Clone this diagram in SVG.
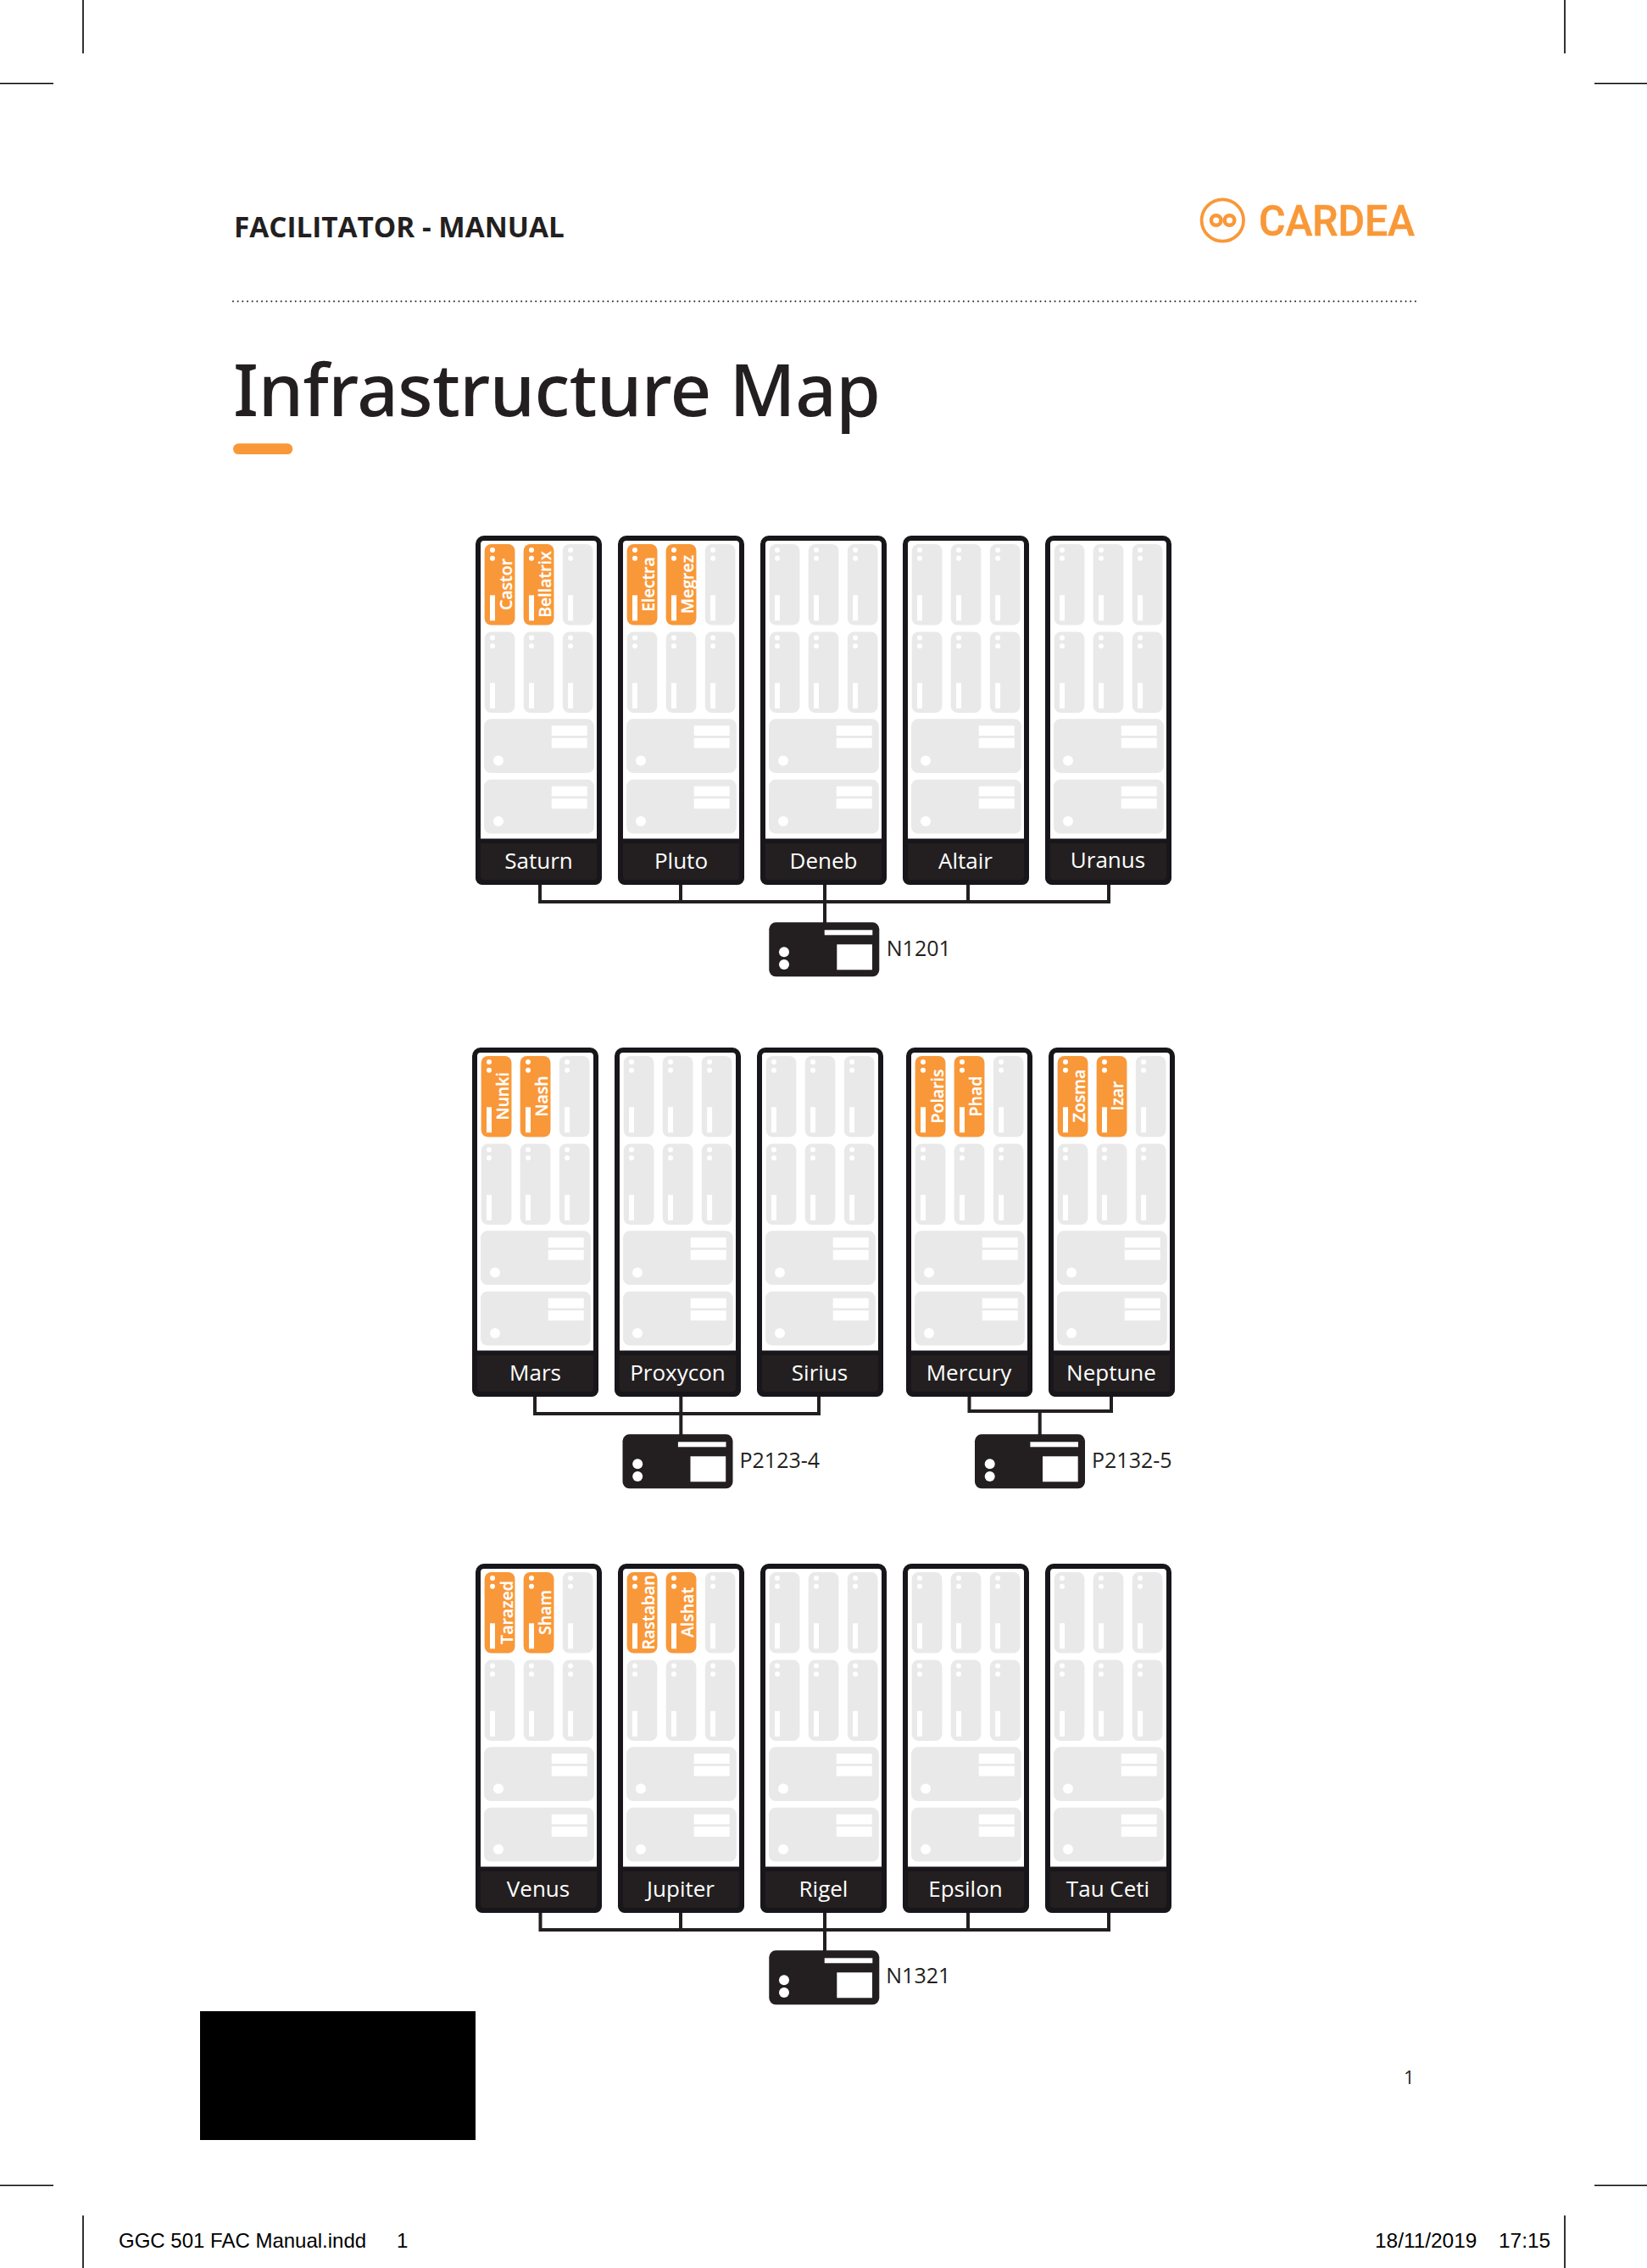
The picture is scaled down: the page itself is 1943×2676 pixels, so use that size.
<svg xmlns="http://www.w3.org/2000/svg" xmlns:xlink="http://www.w3.org/1999/xlink" width="1943" height="2676" viewBox="0 0 1943 2676">
<style>
text{font-family:"Open Sans","Noto Sans",sans-serif;fill:#231f20}
.w{fill:#fff}
.off{fill:#e9e9e9}
.on{fill:#f99838}
.name{font-size:26px;font-weight:500;fill:#fff;text-anchor:middle}
.bl{font-size:19.500px;font-weight:600;fill:#fff;stroke:#fff;stroke-width:.25;text-anchor:middle}
.sw{font-size:25px;font-weight:500}
.crop{stroke:#000;stroke-width:1.6;fill:none}
.conn{stroke:#231f20;stroke-width:4;fill:none}
.slug{font-family:"Liberation Sans",Arial,sans-serif;font-size:24px;fill:#000}
</style>
<defs>
<g id="blade">
<rect width="35.7" height="95.5" rx="8"/>
<circle class="w" cx="9.3" cy="7" r="3"/>
<circle class="w" cx="9.3" cy="16.8" r="3"/>
<rect class="w" x="6.3" y="60.3" width="6" height="30"/>
</g>
<g id="wide">
<rect class="off" width="129.8" height="63.8" rx="8"/>
<rect class="w" x="79.7" y="7.9" width="42" height="11.8"/>
<rect class="w" x="79.7" y="22.5" width="42" height="11.8"/>
<ellipse class="w" cx="17" cy="49.3" rx="6" ry="6"/>
</g>
<g id="rack">
<rect x="3" y="3" width="143" height="406" rx="7" fill="#fff" stroke="#18161a" stroke-width="6"/>
<path d="M0 357.5H149V404a8 8 0 0 1-8 8H8a8 8 0 0 1-8-8Z" fill="#18161a"/>
<path d="M6 363H143V402a4 4 0 0 1-4 4H10a4 4 0 0 1-4-4Z" fill="#231f20"/>
<use href="#blade" class="off" x="10.7" y="10"/>
<use href="#blade" class="off" x="56.7" y="10"/>
<use href="#blade" class="off" x="102.8" y="10"/>
<use href="#blade" class="off" x="10.7" y="113.5"/>
<use href="#blade" class="off" x="56.7" y="113.5"/>
<use href="#blade" class="off" x="102.8" y="113.5"/>
<use href="#wide" x="10" y="216.3"/>
<use href="#wide" x="10" y="287.8"/>
</g>
<g id="switch">
<rect width="130" height="64" rx="8" fill="#231f20"/>
<rect class="w" x="65.4" y="9" width="56.6" height="6"/>
<rect class="w" x="80" y="26" width="41.7" height="30"/>
<circle class="w" cx="17.7" cy="35" r="6"/>
<circle class="w" cx="17.7" cy="49.7" r="6"/>
</g>
</defs>
<rect width="1943" height="2676" fill="#fff"/>

<g id="crop-marks" class="crop">
<path d="M98 0V63M0 98.500H63M1846 0V63M1881 98.500H1943M0 2578.500H63M98 2614V2676M1881 2578.500H1943M1846 2614V2676"/>
</g>

<g id="header">
<text x="276" y="280" font-size="33.300" font-weight="700">FACILITATOR - MANUAL</text>
<path d="M275 355.500H1670" stroke="#231f20" stroke-width="2" stroke-linecap="round" stroke-dasharray="0 5.67" fill="none"/>
<text x="275" y="491" font-size="85" font-weight="500" style="font-family:'Noto Sans','Open Sans',sans-serif" textLength="764" lengthAdjust="spacing">Infrastructure Map</text>
<rect x="275" y="523.300" width="70.300" height="12.700" rx="6.300" class="on"/>
<g id="logo">
<circle cx="1442.300" cy="260" r="24.700" fill="none" stroke="#f99838" stroke-width="3.800"/>
<circle cx="1434.700" cy="260" r="5.800" fill="none" stroke="#f99838" stroke-width="4.500"/>
<circle cx="1450.500" cy="260" r="5.800" fill="none" stroke="#f99838" stroke-width="4.500"/>
<text x="1485" y="278.300" font-size="50" font-weight="500" style="font-family:Roboto,sans-serif;fill:#f99838;stroke:#f99838;stroke-width:.6" textLength="184" lengthAdjust="spacingAndGlyphs">CARDEA</text>
</g>
</g>

<g id="connectors" class="conn">
<path d="M637 1043V1064H1308V1043M803 1043V1064M1142 1043V1064M973 1043V1089"/>
<path d="M631 1646V1668H966V1646M803.300 1646V1693"/>
<path d="M1143.500 1646V1665H1311V1646M1226.700 1665V1693"/>
<path d="M637.500 2256V2277H1308V2256M803 2256V2277M1142 2256V2277M973 2256V2302"/>
</g>

<g id="rack-saturn" transform="translate(561 632)"><use href="#rack"/><use href="#blade" class="on" x="10.700" y="10"/><use href="#blade" class="on" x="56.700" y="10"/><text class="bl" transform="translate(43 57.500) rotate(-90)">Castor</text><text class="bl" transform="translate(89 57.500) rotate(-90)">Bellatrix</text><text class="name" x="74.500" y="393">Saturn</text></g>
<g id="rack-pluto" transform="translate(729 632)"><use href="#rack"/><use href="#blade" class="on" x="10.700" y="10"/><use href="#blade" class="on" x="56.700" y="10"/><text class="bl" transform="translate(43 57.500) rotate(-90)">Electra</text><text class="bl" transform="translate(89 57.500) rotate(-90)">Megrez</text><text class="name" x="74.500" y="393">Pluto</text></g>
<g id="rack-deneb" transform="translate(897 632)"><use href="#rack"/><text class="name" x="74.500" y="393">Deneb</text></g>
<g id="rack-altair" transform="translate(1065 632)"><use href="#rack"/><text class="name" x="74" y="393">Altair</text></g>
<g id="rack-uranus" transform="translate(1233 632)"><use href="#rack"/><text class="name" x="74" y="392">Uranus</text></g>

<g id="rack-mars" transform="translate(557 1236)"><use href="#rack"/><use href="#blade" class="on" x="10.700" y="10"/><use href="#blade" class="on" x="56.700" y="10"/><text class="bl" transform="translate(42.500 57.500) rotate(-90)">Nunki</text><text class="bl" transform="translate(88.700 57.500) rotate(-90)">Nash</text><text class="name" x="74.500" y="393">Mars</text></g>
<g id="rack-proxycon" transform="translate(725 1236)"><use href="#rack"/><text class="name" x="74.500" y="393">Proxycon</text></g>
<g id="rack-sirius" transform="translate(893 1236)"><use href="#rack"/><text class="name" x="74" y="393">Sirius</text></g>
<g id="rack-mercury" transform="translate(1069 1236)"><use href="#rack"/><use href="#blade" class="on" x="10.700" y="10"/><use href="#blade" class="on" x="56.700" y="10"/><text class="bl" transform="translate(43.700 57.500) rotate(-90)">Polaris</text><text class="bl" transform="translate(89 57.500) rotate(-90)">Phad</text><text class="name" x="74" y="393">Mercury</text></g>
<g id="rack-neptune" transform="translate(1237 1236)"><use href="#rack"/><use href="#blade" class="on" x="10.700" y="10"/><use href="#blade" class="on" x="56.700" y="10"/><text class="bl" transform="translate(43 57) rotate(-90)">Zosma</text><text class="bl" transform="translate(88 57) rotate(-90)">Izar</text><text class="name" x="74" y="393">Neptune</text></g>

<g id="rack-venus" transform="translate(561 1845)"><use href="#rack"/><use href="#blade" class="on" x="10.700" y="10"/><use href="#blade" class="on" x="56.700" y="10"/><text class="bl" transform="translate(44 57.500) rotate(-90)">Tarazed</text><text class="bl" transform="translate(89 57.500) rotate(-90)">Sham</text><text class="name" x="74" y="393">Venus</text></g>
<g id="rack-jupiter" transform="translate(729 1845)"><use href="#rack"/><use href="#blade" class="on" x="10.700" y="10"/><use href="#blade" class="on" x="56.700" y="10"/><text class="bl" transform="translate(43 57.500) rotate(-90)">Rastaban</text><text class="bl" transform="translate(88.700 57.500) rotate(-90)">Alshat</text><text class="name" x="74" y="393">Jupiter</text></g>
<g id="rack-rigel" transform="translate(897 1845)"><use href="#rack"/><text class="name" x="74.500" y="393">Rigel</text></g>
<g id="rack-epsilon" transform="translate(1065 1845)"><use href="#rack"/><text class="name" x="74" y="393">Epsilon</text></g>
<g id="rack-tau-ceti" transform="translate(1233 1845)"><use href="#rack"/><text class="name" x="74" y="393">Tau Ceti</text></g>

<g id="switch-n1201" transform="translate(907.300 1088.300)"><use href="#switch"/><text class="sw" x="138.500" y="40">N1201</text></g>
<g id="switch-p2123-4" transform="translate(734.500 1692.300)"><use href="#switch"/><text class="sw" x="138" y="39.500">P2123-4</text></g>
<g id="switch-p2132-5" transform="translate(1150 1692.300)"><use href="#switch"/><text class="sw" x="138" y="39.500">P2132-5</text></g>
<g id="switch-n1321" transform="translate(907.300 2301.300)"><use href="#switch"/><text class="sw" x="138" y="39">N1321</text></g>

<rect id="redaction" x="236" y="2373" width="325" height="152" fill="#000"/>
<text id="page-number" x="1656" y="2459" font-size="22">1</text>
<g id="slug">
<text class="slug" x="140" y="2652">GGC 501 FAC Manual.indd<tspan x="468">1</tspan></text>
<text class="slug" x="1622" y="2652" style="font-size:24.400px">18/11/2019<tspan x="1768">17:15</tspan></text>
</g>
</svg>
